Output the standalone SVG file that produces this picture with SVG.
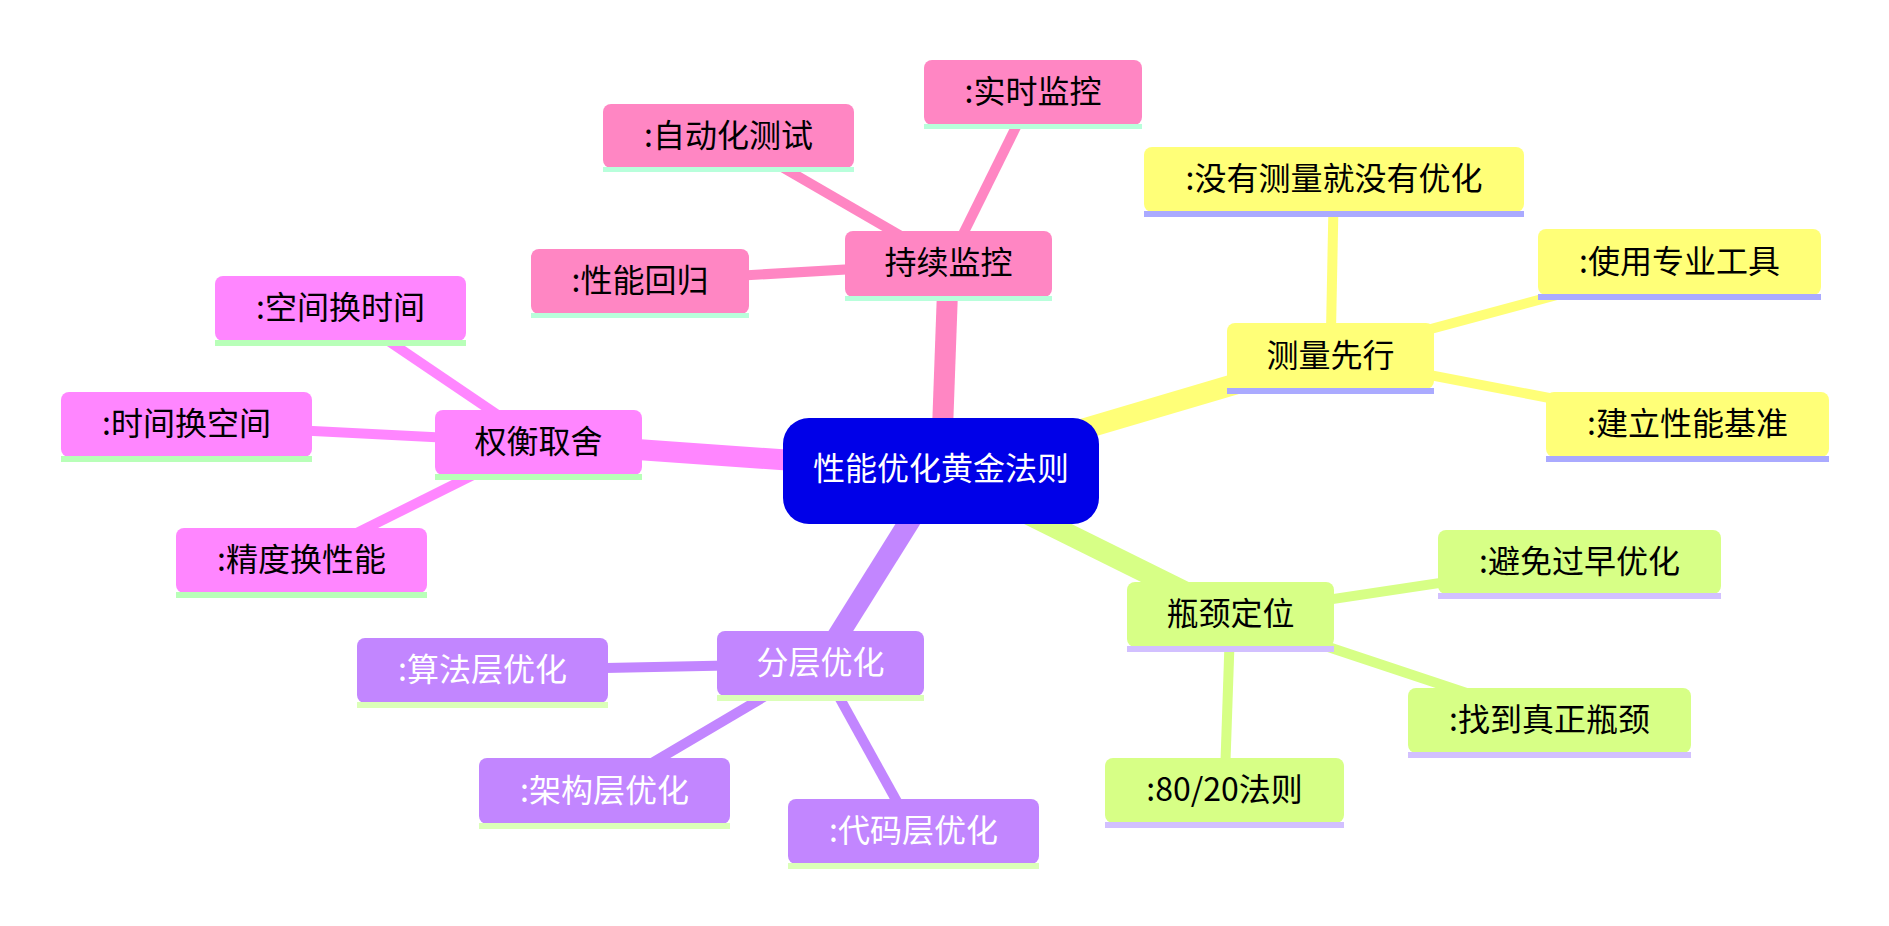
<svg xmlns="http://www.w3.org/2000/svg" width="1889" height="926" viewBox="0 0 1889 926">
<style>
text{font-family:"Noto Sans CJK SC","Noto Sans",sans-serif;font-size:32px;text-anchor:middle;fill:#000}
.main{stroke-width:21;fill:none}
.sub{stroke-width:10;fill:none}
.e1{stroke:#ff86c3}.e2{stroke:#ffff78}.e3{stroke:#d7ff86}.e4{stroke:#c286ff}.e5{stroke:#ff86ff}
.n1{fill:#ff86c3}.n2{fill:#ffff78}.n3{fill:#d7ff86}.n4{fill:#c286ff}.n5{fill:#ff86ff}
.u1{fill:#b8ffdb}.u2{fill:#aaaaff}.u3{fill:#d2c0ff}.u4{fill:#dbffb8}.u5{fill:#b8ffb8}
.w{fill:#fff}
</style>
<rect width="1889" height="926" fill="#fff"/>
<g id="connectors" stroke-linecap="butt">
<line class="main e1" x1="941" y1="471" x2="948.5" y2="263.5"/>
<line class="main e2" x1="941" y1="471" x2="1330.5" y2="356"/>
<line class="main e3" x1="941" y1="471" x2="1230.5" y2="614.5"/>
<line class="main e4" x1="941" y1="471" x2="820.5" y2="663.5"/>
<line class="main e5" x1="941" y1="471" x2="538.5" y2="442.5"/>
<line class="sub e1" x1="948.5" y1="263.5" x2="1033" y2="92.5"/>
<line class="sub e1" x1="948.5" y1="263.5" x2="728.5" y2="136"/>
<line class="sub e1" x1="948.5" y1="263.5" x2="640" y2="281.5"/>
<line class="sub e2" x1="1330.5" y1="356" x2="1334" y2="179.5"/>
<line class="sub e2" x1="1330.5" y1="356" x2="1679.5" y2="262"/>
<line class="sub e2" x1="1330.5" y1="356" x2="1687.5" y2="424.5"/>
<line class="sub e3" x1="1230.5" y1="614.5" x2="1579.5" y2="562"/>
<line class="sub e3" x1="1230.5" y1="614.5" x2="1549.5" y2="720.5"/>
<line class="sub e3" x1="1230.5" y1="614.5" x2="1224.5" y2="790.5"/>
<line class="sub e4" x1="820.5" y1="663.5" x2="482.5" y2="670.5"/>
<line class="sub e4" x1="820.5" y1="663.5" x2="604.5" y2="791"/>
<line class="sub e4" x1="820.5" y1="663.5" x2="913.5" y2="831.5"/>
<line class="sub e5" x1="538.5" y1="442.5" x2="340.5" y2="308.5"/>
<line class="sub e5" x1="538.5" y1="442.5" x2="186.5" y2="424.5"/>
<line class="sub e5" x1="538.5" y1="442.5" x2="301.5" y2="560.5"/>
</g>
<g id="root">
<rect x="783" y="418" width="316" height="106" rx="26" fill="#0000e8"/>
<text x="941" y="480" class="w">性能优化黄金法则</text>
</g>
<g id="n-chixu">
<rect x="845" y="231" width="207" height="66" rx="8" class="n1"/><rect x="845" y="296" width="207" height="5" class="u1"/>
<text x="948.5" y="274">持续监控</text>
</g>
<g id="n-shishi">
<rect x="924" y="60" width="218" height="65" rx="8" class="n1"/><rect x="924" y="124" width="218" height="5" class="u1"/>
<text x="1033" y="103">:实时监控</text>
</g>
<g id="n-zidong">
<rect x="603" y="104" width="251" height="64" rx="8" class="n1"/><rect x="603" y="167" width="251" height="5" class="u1"/>
<text x="728.5" y="147">:自动化测试</text>
</g>
<g id="n-huigui">
<rect x="531" y="249" width="218" height="65" rx="8" class="n1"/><rect x="531" y="313" width="218" height="5" class="u1"/>
<text x="640" y="292">:性能回归</text>
</g>
<g id="n-celiang">
<rect x="1227" y="323" width="207" height="66" rx="8" class="n2"/><rect x="1227" y="388" width="207" height="6" class="u2"/>
<text x="1330.5" y="367">测量先行</text>
</g>
<g id="n-meiyou">
<rect x="1144" y="147" width="380" height="65" rx="8" class="n2"/><rect x="1144" y="211" width="380" height="6" class="u2"/>
<text x="1334" y="190">:没有测量就没有优化</text>
</g>
<g id="n-gongju">
<rect x="1538" y="229" width="283" height="66" rx="8" class="n2"/><rect x="1538" y="294" width="283" height="6" class="u2"/>
<text x="1679.5" y="273">:使用专业工具</text>
</g>
<g id="n-jizhun">
<rect x="1546" y="392" width="283" height="65" rx="8" class="n2"/><rect x="1546" y="456" width="283" height="6" class="u2"/>
<text x="1687.5" y="435">:建立性能基准</text>
</g>
<g id="n-pingjing">
<rect x="1127" y="582" width="207" height="65" rx="8" class="n3"/><rect x="1127" y="646" width="207" height="6" class="u3"/>
<text x="1230.5" y="625">瓶颈定位</text>
</g>
<g id="n-bimian">
<rect x="1438" y="530" width="283" height="64" rx="8" class="n3"/><rect x="1438" y="593" width="283" height="6" class="u3"/>
<text x="1579.5" y="573">:避免过早优化</text>
</g>
<g id="n-zhaodao">
<rect x="1408" y="688" width="283" height="65" rx="8" class="n3"/><rect x="1408" y="752" width="283" height="6" class="u3"/>
<text x="1549.5" y="731">:找到真正瓶颈</text>
</g>
<g id="n-8020">
<rect x="1105" y="758" width="239" height="65" rx="8" class="n3"/><rect x="1105" y="822" width="239" height="6" class="u3"/>
<text x="1224.5" y="801">:80/20法则</text>
</g>
<g id="n-fenceng">
<rect x="717" y="631" width="207" height="65" rx="8" class="n4"/><rect x="717" y="695" width="207" height="6" class="u4"/>
<text x="820.5" y="674" class="w">分层优化</text>
</g>
<g id="n-suanfa">
<rect x="357" y="638" width="251" height="65" rx="8" class="n4"/><rect x="357" y="702" width="251" height="6" class="u4"/>
<text x="482.5" y="681" class="w">:算法层优化</text>
</g>
<g id="n-jiagou">
<rect x="479" y="758" width="251" height="66" rx="8" class="n4"/><rect x="479" y="823" width="251" height="6" class="u4"/>
<text x="604.5" y="802" class="w">:架构层优化</text>
</g>
<g id="n-daima">
<rect x="788" y="799" width="251" height="65" rx="8" class="n4"/><rect x="788" y="863" width="251" height="6" class="u4"/>
<text x="913.5" y="842" class="w">:代码层优化</text>
</g>
<g id="n-quanheng">
<rect x="435" y="410" width="207" height="65" rx="8" class="n5"/><rect x="435" y="474" width="207" height="6" class="u5"/>
<text x="538.5" y="453">权衡取舍</text>
</g>
<g id="n-kongjian">
<rect x="215" y="276" width="251" height="65" rx="8" class="n5"/><rect x="215" y="340" width="251" height="6" class="u5"/>
<text x="340.5" y="319">:空间换时间</text>
</g>
<g id="n-shijian">
<rect x="61" y="392" width="251" height="65" rx="8" class="n5"/><rect x="61" y="456" width="251" height="6" class="u5"/>
<text x="186.5" y="435">:时间换空间</text>
</g>
<g id="n-jingdu">
<rect x="176" y="528" width="251" height="65" rx="8" class="n5"/><rect x="176" y="592" width="251" height="6" class="u5"/>
<text x="301.5" y="571">:精度换性能</text>
</g>
</svg>
